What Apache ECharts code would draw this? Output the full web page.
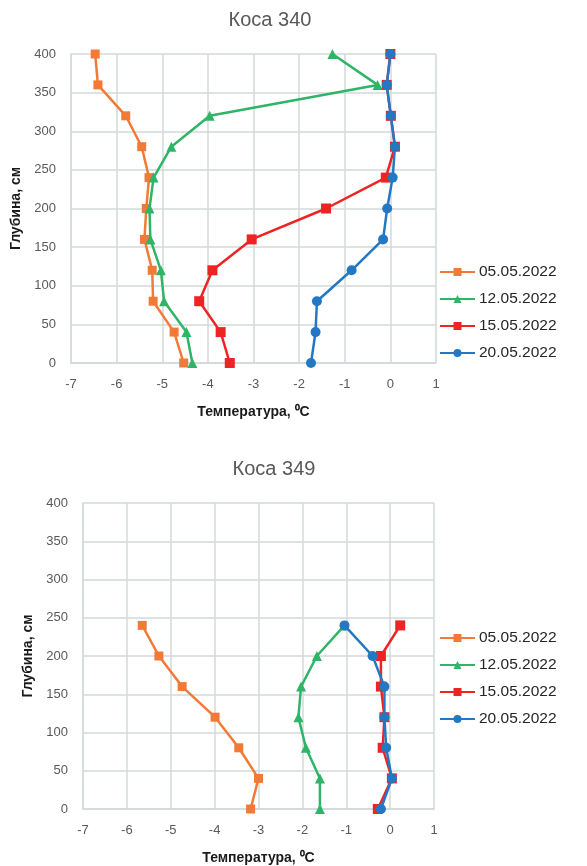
<!DOCTYPE html>
<html><head><meta charset="utf-8">
<script src="https://cdn.jsdelivr.net/npm/echarts@6/dist/echarts.min.js"></script>
<style>html,body{margin:0;padding:0;background:#fff}#c{width:587px;height:866px}</style>
</head><body><div id="c"></div>
<script>
// Коса 340
const depths340 = [400, 360, 320, 280, 240, 200, 160, 120, 80, 40, 0];
const t340_0505 = [-6.47, -6.41, -5.80, -5.45, -5.29, -5.35, -5.39, -5.22, -5.20, -4.74, -4.53];
const t340_1205 = [-1.27, -0.28, -3.96, -4.80, -5.19, -5.28, -5.26, -5.03, -4.96, -4.47, -4.34];
const t340_1505 = [0.00, -0.08, 0.01, 0.10, -0.10, -1.41, -3.04, -3.90, -4.19, -3.72, -3.52];
const t340_2005 = [0.00, -0.08, 0.01, 0.10, 0.05, -0.07, -0.16, -0.85, -1.61, -1.64, -1.74];
// Коса 349
const depths349 = [240, 200, 160, 120, 80, 40, 0];
const t349_0505 = [-5.65, -5.27, -4.74, -3.99, -3.45, -3.00, -3.18];
const t349_1205 = [-1.04, -1.67, -2.03, -2.09, -1.92, -1.60, -1.60];
const t349_1505 = [0.23, -0.21, -0.21, -0.13, -0.17, 0.04, -0.28];
const t349_2005 = [-1.04, -0.40, -0.13, -0.13, -0.09, 0.04, -0.21];

const seriesNames = ['05.05.2022', '12.05.2022', '15.05.2022', '20.05.2022'];
const colors = ['#F27A36', '#2FB468', '#EE2424', '#2378C3'];
const symbols = ['rect', 'triangle', 'rect', 'circle'];
const symbolSizes = [9, 10, 10, 10];
const titles = ['Коса 340', 'Коса 349'];
const xTicks = {min: -7, max: 1, interval: 1};
const yTicks = {min: 0, max: 400, interval: 50};
const xName = 'Температура, ⁰С';
const yName = 'Глубина, см';

const sets = [
  {depths: depths340, vals: [t340_0505, t340_1205, t340_1505, t340_2005]},
  {depths: depths349, vals: [t349_0505, t349_1205, t349_1505, t349_2005]}
];

const FONT = '"Liberation Sans", Arial, sans-serif';
const gridCol = '#D3D8DA';

const grids = [
  {left: 71, top: 54, width: 365, height: 309},
  {left: 83, top: 503, width: 351, height: 309}
];
const yNameGap = [44, 48];

const xAxes = [], yAxes = [], series = [];
grids.forEach((g, i) => {
  xAxes.push({
    type: 'value', gridIndex: i, min: xTicks.min, max: xTicks.max, interval: xTicks.interval,
    name: xName, nameLocation: 'middle', nameGap: 42,
    nameTextStyle: {fontFamily: FONT, fontWeight: 'bold', fontSize: 14, color: '#1a1a1a'},
    axisLine: {show: true, onZero: false, lineStyle: {color: gridCol, width: 1.5}},
    axisTick: {show: false},
    axisLabel: {fontFamily: FONT, fontSize: 13, color: '#595959', margin: 15},
    splitLine: {show: true, lineStyle: {color: gridCol, width: 1.5}}
  });
  yAxes.push({
    type: 'value', gridIndex: i, min: yTicks.min, max: yTicks.max, interval: yTicks.interval,
    name: yName, nameLocation: 'middle', nameGap: yNameGap[i], nameRotate: 90,
    nameTextStyle: {fontFamily: FONT, fontWeight: 'bold', fontSize: 14, color: '#1a1a1a'},
    axisLine: {show: true, onZero: false, lineStyle: {color: gridCol, width: 1.5}},
    axisTick: {show: false},
    axisLabel: {fontFamily: FONT, fontSize: 13, color: '#595959', margin: 15},
    splitLine: {show: true, lineStyle: {color: gridCol, width: 1.5}}
  });
  const s = sets[i];
  seriesNames.forEach((nm, k) => {
    series.push({
      name: nm, type: 'line', xAxisIndex: i, yAxisIndex: i,
      data: s.vals[k].map((v, j) => [v, s.depths[j]]),
      symbol: symbols[k], symbolSize: symbolSizes[k],
      lineStyle: {color: colors[k], width: 2.5},
      itemStyle: {color: colors[k]},
      animation: false, z: 2 + k
    });
  });
});

const chart = echarts.init(document.getElementById('c'), null, {renderer: 'canvas'});
chart.setOption({
  animation: false,
  backgroundColor: '#fff',
  title: [
    {text: titles[0], left: 265, top: 5, textAlign: 'center',
     textStyle: {fontFamily: FONT, fontWeight: 'normal', fontSize: 20, color: '#595959'}},
    {text: titles[1], left: 269, top: 454, textAlign: 'center',
     textStyle: {fontFamily: FONT, fontWeight: 'normal', fontSize: 20, color: '#595959'}}
  ],
  legend: [
    {data: seriesNames, orient: 'vertical', left: 434, top: 259, itemWidth: 35, itemHeight: 10, itemGap: 11,
     textStyle: {fontFamily: FONT, fontSize: 15.5, color: '#262626', padding: [0, 0, 0, -1]}},
    {data: seriesNames, orient: 'vertical', left: 434, top: 625, itemWidth: 35, itemHeight: 10, itemGap: 11,
     textStyle: {fontFamily: FONT, fontSize: 15.5, color: '#262626', padding: [0, 0, 0, -1]}}
  ],
  grid: grids,
  xAxis: xAxes,
  yAxis: yAxes,
  series: series
});
</script></body></html>
